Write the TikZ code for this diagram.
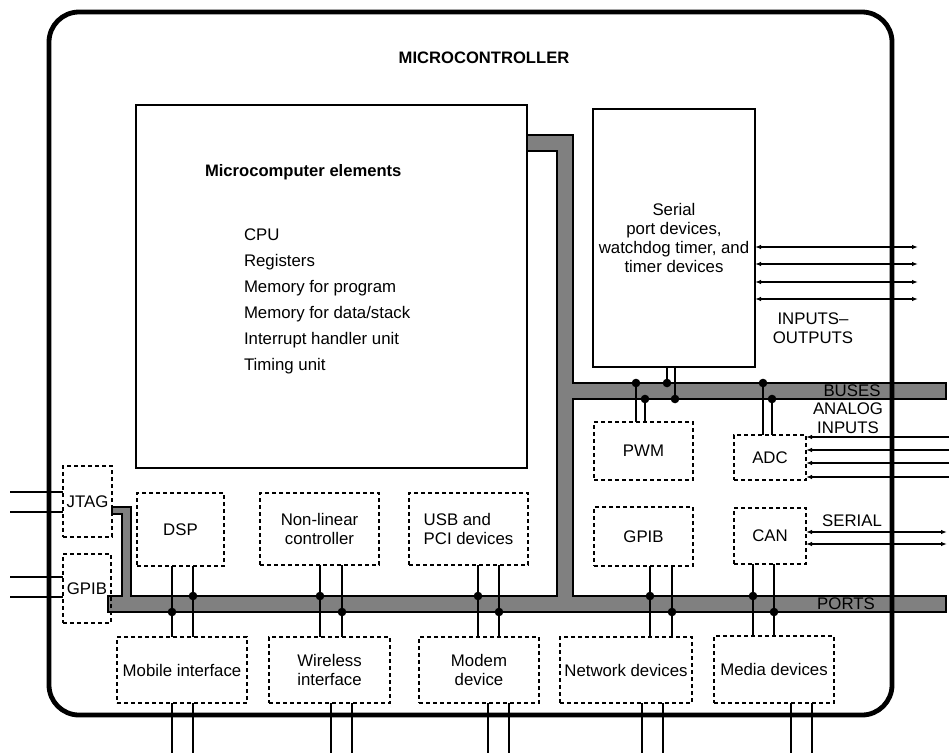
\documentclass[tikz,border=0pt]{standalone}
\usepackage{fontspec}
\setmainfont{Liberation Sans}
\usetikzlibrary{arrows.meta}
\definecolor{busgray}{RGB}{128,128,128}
\begin{document}
\begin{tikzpicture}[x=1pt,y=-1pt,
  every node/.style={font=\fontsize{16.8}{19}\selectfont, inner sep=0pt, outer sep=0pt},
  bfont/.style={font=\fontsize{16.6}{19}\selectfont\bfseries},
  dbox/.style={draw, dash pattern=on 4pt off 3pt, line width=1.4pt, anchor=north west, align=center},
  sbox/.style={draw, line width=1.2pt, anchor=north west, align=center},
  wire/.style={line width=1.3pt},
  dotc/.style={fill=black},
  dbl/.style={line width=1.3pt, {Latex[length=6pt,width=4.5pt]}-{Latex[length=6pt,width=4.5pt]}},
  sgl/.style={line width=1.3pt, -{Latex[length=6pt,width=4.5pt]}},
  lab/.style={align=center}
]
\useasboundingbox[fill=white] (0,0) rectangle (949,753);

% ---------- buses ----------
\filldraw[fill=busgray, draw=black, line width=1.4pt, line join=miter]
  (527,135) -- (573,135) -- (573,383) -- (946,383) -- (946,399) -- (573,399)
  -- (573,596) -- (946,596) -- (946,612) -- (108,612) -- (108,596) -- (122,596)
  -- (122,514) -- (112,514) -- (112,507) -- (131,507) -- (131,596) -- (557,596)
  -- (557,151) -- (527,151) -- cycle;

% ---------- outer frame ----------
\draw[line width=4.8pt, rounded corners=30pt] (49,12) rectangle (892,715);
\node[bfont] (title) at (484,58) {MICROCONTROLLER};

% ---------- solid boxes ----------
\node[sbox, minimum width=391pt, minimum height=363pt] (mc) at (136,105) {};
\node[bfont, anchor=base west] (mct) at (205,176) {Microcomputer elements};
\foreach \t [count=\i] in {CPU,Registers,Memory for program,Memory for data/stack,Interrupt handler unit,Timing unit}
  \node[anchor=base west] (li\i) at (244,{214+26*\i}) {\t};

\node[sbox, minimum width=162pt, minimum height=258pt] (ser) at (593,109)
  {Serial\\port devices,\\watchdog timer, and\\timer devices};

% ---------- dashed boxes ----------
\node[dbox, minimum width=49pt, minimum height=71pt] (jtag) at (63,466) {JTAG};
\node[dbox, minimum width=48pt, minimum height=69pt] (gpibl) at (63,554) {GPIB};
\node[dbox, minimum width=87pt, minimum height=73pt] (dsp) at (137,493) {DSP};
\node[dbox, minimum width=119pt, minimum height=72pt] (nlc) at (260,493) {Non-linear\\controller};
\node[dbox, minimum width=119pt, minimum height=72pt, align=left] (usb) at (409,493) {USB and\\PCI devices};
\node[dbox, minimum width=99pt, minimum height=58pt] (pwm) at (594,422) {PWM};
\node[dbox, minimum width=72pt, minimum height=45pt] (adc) at (734,435) {ADC};
\node[dbox, minimum width=99pt, minimum height=59pt] (gpibr) at (594,507) {GPIB};
\node[dbox, minimum width=72pt, minimum height=56pt] (can) at (734,508) {CAN};
\node[dbox, minimum width=130pt, minimum height=66pt] (mob) at (117,637) {Mobile interface};
\node[dbox, minimum width=121pt, minimum height=66pt] (wir) at (269,637) {Wireless\\interface};
\node[dbox, minimum width=120pt, minimum height=66pt] (mod) at (419,637) {Modem\\device};
\node[dbox, minimum width=132pt, minimum height=66pt] (net) at (560,637) {Network devices};
\node[dbox, minimum width=120pt, minimum height=67pt] (med) at (714,636) {Media devices};

% ---------- bus labels ----------
\node[text=black] (buses) at (852,391) {BUSES};
\node[text=black] (ports) at (846,604) {PORTS};
\node[lab] (io) at (813,328) {INPUTS--\\OUTPUTS};
\node[lab] (ana) at (848,418) {ANALOG\\INPUTS};
\node[lab] (serl) at (852,521) {SERIAL};

% ---------- dot coordinates ----------
% BUSES (top edge 383, bottom edge 399)
\coordinate (pA) at (636,383); \coordinate (pB) at (645,399);
\coordinate (sA) at (667,383); \coordinate (sB) at (675,399);
\coordinate (aA) at (763,383); \coordinate (aB) at (772,399);
% PORTS (top edge 596, bottom edge 612)
\coordinate (dA) at (172,612); \coordinate (dB) at (193,596);
\coordinate (nA) at (320,596); \coordinate (nB) at (342,612);
\coordinate (uA) at (478,596); \coordinate (uB) at (499,612);
\coordinate (gA) at (650,596); \coordinate (gB) at (672,612);
\coordinate (cA) at (753,596); \coordinate (cB) at (774,612);

% ---------- wires to BUSES ----------
\draw[wire] (ser.south -| sA) -- (sA);
\draw[wire] (ser.south -| sB) -- (sB);
\draw[wire] (pwm.north -| pA) -- (pA);
\draw[wire] (pwm.north -| pB) -- (pB);
\draw[wire] (adc.north -| aA) -- (aA);
\draw[wire] (adc.north -| aB) -- (aB);

% ---------- wires through PORTS ----------
\foreach \a/\b/\p in {dsp/mob/dA, dsp/mob/dB, nlc/wir/nA, nlc/wir/nB, usb/mod/uA, usb/mod/uB, gpibr/net/gA, gpibr/net/gB, can/med/cA, can/med/cB}
  \draw[wire] (\a.south -| \p) -- (\b.north -| \p);

\foreach \p in {pA,pB,sA,sB,aA,aB,dA,dB,nA,nB,uA,uB,gA,gB,cA,cB}
  \fill[dotc] (\p) circle (4.3pt);

% ---------- external lines at the bottom ----------
\coordinate (b1) at (172,753); \coordinate (b2) at (193,753);
\coordinate (b3) at (331,753); \coordinate (b4) at (352,753);
\coordinate (b5) at (488,753); \coordinate (b6) at (509,753);
\coordinate (b7) at (642,753); \coordinate (b8) at (663,753);
\coordinate (b9) at (791,753); \coordinate (b10) at (812,753);
\foreach \n/\p in {mob/b1, mob/b2, wir/b3, wir/b4, mod/b5, mod/b6, net/b7, net/b8, med/b9, med/b10}
  \draw[wire] (\n.south -| \p) -- (\p);

% ---------- external lines at the left ----------
\coordinate (j1) at (10,492); \coordinate (j2) at (10,512);
\coordinate (g1) at (10,577); \coordinate (g2) at (10,597);
\draw[wire] (j1) -- (jtag.west |- j1);
\draw[wire] (j2) -- (jtag.west |- j2);
\draw[wire] (g1) -- (gpibl.west |- g1);
\draw[wire] (g2) -- (gpibl.west |- g2);

% ---------- arrows ----------
\coordinate (o1) at (918,247); \coordinate (o2) at (918,264);
\coordinate (o3) at (918,282); \coordinate (o4) at (918,299);
\foreach \p in {o1,o2,o3,o4}
  \draw[dbl] (ser.east |- \p) -- (\p);

\coordinate (i1) at (949,437); \coordinate (i2) at (949,450);
\coordinate (i3) at (949,463); \coordinate (i4) at (949,477);
\foreach \p in {i1,i2,i3,i4}
  \draw[sgl] (\p) -- (adc.east |- \p);

\coordinate (c1) at (947,532); \coordinate (c2) at (947,544);
\foreach \p in {c1,c2}
  \draw[dbl] (can.east |- \p) -- (\p);
\end{tikzpicture}
\end{document}
